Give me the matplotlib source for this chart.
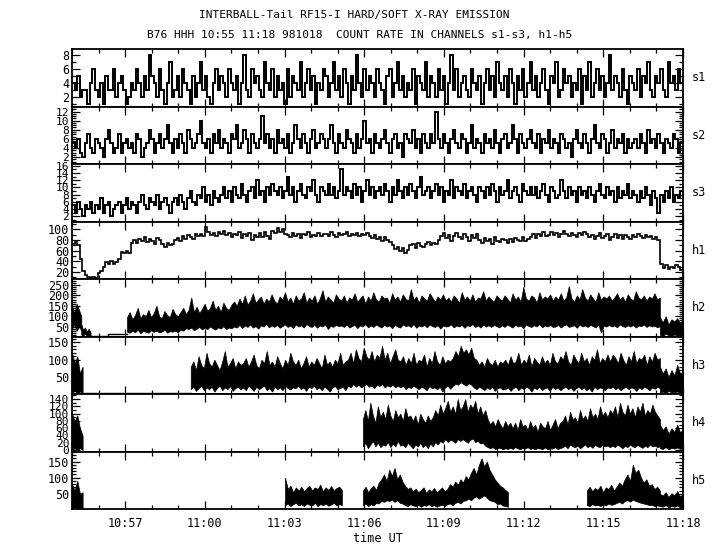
import numpy as np
import matplotlib
matplotlib.use('Agg')
import matplotlib.pyplot as plt
from matplotlib.ticker import MultipleLocator, FixedLocator

plt.rcParams['font.family'] = ['DejaVu Sans Mono']

# ---------------- data (time in minutes after 10:55 UT) ----------------
TITLE1 = "INTERBALL-Tail RF15-I HARD/SOFT X-RAY EMISSION"
TITLE2 = "B76 HHH 10:55 11:18 981018  COUNT RATE IN CHANNELS s1-s3, h1-h5"
XLABEL = "time UT"
T_START, T_END = 0.0, 23.0
X_TICKS = [2, 5, 8, 11, 14, 17, 20, 23]
X_LABELS = ["10:57", "11:00", "11:03", "11:06", "11:09", "11:12", "11:15", "11:18"]
CHANNELS = ["s1", "s2", "s3", "h1", "h2", "h3", "h4", "h5"]

S1 = [4, 3, 5, 2, 3, 3, 1, 4, 6, 3, 2, 4, 1, 5, 3, 3, 6, 2, 4, 5,
      3, 1, 2, 4, 3, 6, 4, 2, 5, 3, 8, 5, 4, 2, 6, 3, 1, 4, 7, 2,
      3, 5, 2, 6, 4, 3, 1, 5, 2, 4, 7, 3, 5, 2, 1, 4, 6, 3, 5, 4,
      2, 6, 4, 3, 5, 1, 4, 8, 3, 2, 6, 4, 5, 3, 2, 7, 4, 3, 6, 2,
      5, 3, 4, 1, 6, 2, 5, 4, 3, 7, 2, 4, 6, 3, 5, 1, 4, 3, 6, 5,
      2, 4, 7, 3, 5, 2, 6, 4, 1, 5, 3, 8, 4, 2, 6, 3, 5, 4, 2, 6,
      4, 3, 1, 5, 6, 2, 4, 7, 3, 5, 2, 4, 3, 6, 1, 5, 4, 3, 7, 2,
      5, 4, 2, 6, 3, 5, 1, 4, 8, 3, 6, 2, 4, 5, 3, 2, 6, 4, 3, 5,
      1, 4, 6, 3, 5, 2, 7, 4, 3, 5, 2, 6, 4, 1, 5, 3, 6, 2, 4, 7,
      3, 5, 2, 4, 6, 3, 1, 5, 4, 7, 2, 3, 6, 4, 5, 2, 4, 3, 6, 1,
      5, 3, 7, 2, 4, 6, 3, 5, 2, 4, 8, 3, 5, 4, 2, 6, 3, 1, 5, 4,
      3, 6, 2, 5, 4, 7, 3, 2, 5, 4, 6, 3, 2, 7, 4, 5, 3, 6, 4, 5]

S2 = [5, 4, 6, 3, 2, 5, 7, 4, 3, 6, 5, 4, 2, 6, 8, 5, 3, 4, 7, 3,
      5, 6, 4, 5, 3, 7, 6, 2, 4, 5, 8, 6, 3, 5, 7, 4, 6, 9, 5, 3,
      6, 4, 7, 5, 3, 8, 6, 4, 5, 7, 10, 5, 4, 6, 3, 7, 5, 8, 4, 6,
      5, 3, 7, 6, 9, 4, 5, 8, 6, 3, 7, 5, 4, 6, 11, 5, 7, 4, 6, 3,
      8, 5, 6, 4, 7, 3, 5, 9, 6, 4, 7, 5, 3, 6, 8, 4, 5, 7, 6, 4,
      6, 9, 5, 3, 7, 5, 4, 8, 6, 5, 3, 7, 4, 6, 10, 5, 6, 3, 7, 5,
      4, 6, 8, 5, 3, 6, 7, 4, 5, 2, 7, 6, 5, 8, 4, 6, 3, 7, 5, 4,
      7, 5, 12, 6, 4, 7, 5, 3, 6, 8, 5, 4, 7, 6, 3, 5, 9, 4, 6, 5,
      3, 7, 5, 6, 4, 8, 5, 3, 6, 7, 4, 5, 9, 6, 3, 7, 5, 4, 6, 8,
      5, 4, 7, 3, 6, 5, 8, 4, 6, 5, 3, 7, 6, 4, 5, 2, 6, 8, 5, 4,
      7, 5, 3, 6, 9, 5, 4, 7, 6, 3, 5, 8, 4, 6, 5, 7, 3, 6, 4, 5,
      6, 4, 7, 5, 3, 8, 5, 6, 4, 7, 5, 3, 6, 5, 4, 7, 6, 3, 5, 6]

S3 = [5, 3, 6, 4, 2, 5, 4, 6, 3, 5, 4, 7, 3, 5, 6, 2, 4, 5, 6, 3,
      5, 7, 4, 6, 5, 3, 6, 8, 5, 4, 7, 6, 5, 8, 4, 6, 7, 5, 3, 6,
      7, 5, 8, 6, 4, 7, 9, 6, 5, 8, 7, 10, 6, 8, 5, 9, 7, 6, 8, 10,
      7, 9, 6, 10, 8, 7, 11, 8, 6, 9, 10, 7, 12, 8, 9, 6, 10, 8, 11, 9,
      8, 10, 7, 9, 13, 8, 10, 6, 9, 11, 8, 7, 10, 9, 12, 8, 6, 10, 9, 8,
      11, 8, 10, 7, 9, 15, 8, 10, 9, 7, 11, 8, 10, 6, 9, 12, 8, 10, 7, 9,
      10, 8, 11, 9, 6, 10, 8, 12, 9, 7, 10, 8, 11, 9, 7, 10, 13, 8, 9, 10,
      7, 9, 11, 8, 10, 6, 9, 8, 12, 7, 10, 9, 8, 11, 7, 9, 10, 8, 6, 10,
      9, 7, 10, 8, 11, 9, 6, 10, 8, 9, 12, 7, 9, 10, 8, 6, 11, 9, 8, 10,
      8, 10, 7, 9, 11, 8, 6, 10, 9, 7, 8, 12, 9, 7, 10, 8, 9, 6, 10, 8,
      9, 7, 10, 8, 6, 9, 11, 8, 7, 10, 8, 9, 6, 10, 7, 9, 8, 11, 7, 9,
      8, 6, 9, 7, 10, 8, 5, 9, 7, 3, 8, 6, 9, 7, 10, 6, 8, 7, 9, 8]

H1 = [72, 76, 70, 45, 22, 14, 11, 9, 10, 8, 18, 22, 30, 38, 36, 40, 35, 38, 45, 58,
      55, 60, 56, 75, 80, 74, 83, 78, 85, 76, 82, 79, 73, 84, 80, 72, 68, 74, 70, 73,
      80, 84, 79, 87, 83, 90, 85, 82, 91, 87, 92, 88, 104, 96, 90, 94, 88, 95, 91, 97,
      89, 93, 86, 92, 90, 95, 84, 92, 87, 94, 81, 90, 86, 93, 85, 96, 88, 83, 98, 94,
      103, 96, 100, 92, 90, 85, 93, 88, 92, 84, 91, 89, 95, 86, 90, 88, 93, 87, 91, 92,
      88, 95, 90, 86, 93, 89, 91, 96, 88, 92, 90, 94, 87, 91, 89, 93, 87, 84, 90, 82,
      86, 79, 85, 81, 76, 70, 64, 68, 60, 66, 55, 62, 70, 73, 66, 74, 69, 67, 73, 76,
      70, 74, 72, 80, 87, 93, 84, 90, 78, 88, 94, 85, 82, 91, 86, 79, 89, 84, 92, 80,
      75, 84, 78, 82, 73, 85, 79, 76, 83, 80, 74, 82, 77, 84, 81, 78, 85, 79, 83, 86,
      91, 84, 92, 88, 95, 87, 90, 96, 89, 93, 85, 91, 98, 92, 88, 94, 90, 86, 93, 89,
      95, 91, 85, 90, 82, 88, 93, 84, 87, 91, 80, 86, 92, 84, 89, 82, 90, 86, 83, 89,
      85, 92, 87, 84, 90, 86, 88, 83, 86, 80, 36, 28, 33, 25, 30, 27, 34, 29, 24, 31]

# dense channels h2-h5: per segment (start, end) with upper / lower envelope
H2_SEGS = [(0.0, 0.35), (0.35, 0.7), (2.07, 22.13), (22.13, 23.0)]
H2_HI = [[150, 110, 160, 130, 100],
         [60, 35, 45, 25, 40, 20],
         [95, 120, 85, 105, 140, 90, 110, 100, 130, 95, 115, 150, 100, 90, 125, 105, 95, 135, 110, 100,
          120, 140, 110, 130, 190, 120, 145, 115, 135, 160, 125, 140, 175, 130, 150, 120, 165, 140, 130, 155,
          170, 150, 185, 160, 200, 155, 175, 210, 165, 180, 195, 160, 185, 170, 205, 175, 160, 195, 180, 215,
          170, 190, 160, 200, 175, 185, 215, 165, 190, 175, 200, 160, 185, 225, 170, 195, 180, 165, 205, 185,
          175, 200, 165, 190, 180, 210, 170, 185, 200, 160, 195, 175, 215, 180, 170, 200, 185, 190, 165, 210,
          180, 195, 170, 205, 185, 175, 230, 180, 195, 165, 200, 185, 175, 210, 190, 170, 195, 180, 205, 175,
          190, 170, 200, 185, 165, 215, 180, 195, 175, 205, 170, 190, 185, 220, 175, 195, 180, 170, 200, 185,
          175, 200, 185, 165, 210, 180, 195, 170, 240, 185, 175, 200, 190, 165, 215, 180, 195, 185, 205, 175,
          195, 180, 210, 175, 190, 245, 185, 170, 200, 180, 230, 190, 175, 205, 185, 170, 215, 180, 195, 185,
          200, 175, 190, 210, 180, 195, 170, 205, 185, 175, 220, 190, 180, 200, 175, 195, 185, 210, 180, 190],
         [95, 70, 100, 60, 85, 75, 90, 65, 80]]
H2_LO = [[40, 60, 30, 50, 30],
         [10, 5, 15, 5, 8, 5],
         [25, 20, 30, 22, 35, 18, 28, 25, 20, 32, 24, 30, 22, 26, 35, 20, 28, 25, 30, 22,
          35, 30, 42, 38, 45, 32, 40, 48, 36, 44, 38, 50, 42, 35, 46, 40, 52, 38, 45, 42,
          50, 45, 58, 42, 55, 48, 60, 45, 52, 40, 56, 50, 62, 46, 55, 48, 58, 44, 52, 60,
          48, 55, 42, 60, 50, 56, 45, 62, 52, 48, 58, 44, 55, 50, 60, 38, 54, 48, 58, 52,
          55, 48, 60, 45, 52, 58, 42, 56, 50, 62, 46, 55, 48, 60, 52, 45, 58, 50, 55, 42,
          58, 50, 45, 60, 52, 56, 48, 62, 44, 55, 50, 58, 46, 60, 52, 48, 56, 40, 55, 50,
          52, 60, 46, 55, 50, 58, 44, 56, 52, 62, 48, 55, 45, 60, 50, 56, 48, 58, 52, 46,
          56, 48, 60, 52, 45, 58, 50, 55, 42, 60, 52, 48, 56, 50, 62, 46, 55, 50, 58, 48,
          50, 58, 45, 55, 60, 48, 52, 56, 44, 60, 50, 55, 48, 58, 52, 46, 60, 22, 54, 50,
          58, 50, 55, 46, 60, 52, 48, 56, 50, 58, 45, 55, 52, 60, 48, 56, 50, 54, 46, 52],
         [10, 5, 15, 8, 5, 12, 6, 10, 8]]
H2_FLAT_T = [0.7, 1.35, 2.07]
H2_FLAT_V = [3, 16, 16]

H3_SEGS = [(0.0, 0.4), (4.47, 22.13), (22.13, 23.0)]
H3_HI = [[120, 90, 110, 60, 80],
         [80, 95, 70, 110, 85, 75, 120, 90, 80, 100, 85, 70, 95, 125, 80, 90, 105, 75, 95, 85,
          90, 105, 80, 95, 115, 85, 75, 100, 90, 125, 85, 95, 80, 110, 90, 75, 100, 85, 120, 95,
          85, 100, 75, 90, 110, 80, 95, 85, 105, 90, 75, 115, 85, 95, 80, 100, 90, 120, 85, 95,
          100, 120, 90, 130, 105, 95, 135, 110, 100, 125, 95, 115, 105, 140, 100, 120, 90, 110, 130, 100,
          95, 110, 85, 105, 90, 120, 85, 100, 95, 115, 80, 105, 90, 125, 95, 85, 110, 90, 100, 95,
          105, 125, 110, 140, 120, 130, 115, 135, 105, 100, 85, 95, 80, 105, 90, 85, 100, 80, 95, 90,
          100, 85, 110, 90, 95, 120, 85, 100, 90, 115, 80, 105, 95, 85, 110, 90, 100, 85, 120, 95,
          90, 110, 100, 125, 95, 85, 115, 100, 90, 120, 95, 105, 85, 110, 100, 130, 90, 105, 95, 115,
          95, 115, 105, 90, 120, 100, 85, 110, 95, 125, 90, 105, 100, 115, 85, 110, 95, 120, 100, 105],
         [80, 60, 75, 50, 70, 55, 85, 60, 65]]
H3_LO = [[5, 10, 3, 8, 5],
         [15, 22, 10, 18, 25, 12, 20, 15, 22, 8, 18, 25, 12, 20, 15, 24, 10, 18, 22, 14,
          20, 12, 25, 18, 10, 22, 15, 20, 25, 12, 18, 8, 22, 15, 20, 12, 25, 18, 14, 20,
          18, 25, 15, 20, 10, 22, 18, 25, 15, 20, 12, 22, 16, 8, 20, 24, 15, 18, 22, 12,
          25, 20, 30, 22, 28, 20, 25, 30, 22, 25, 18, 28, 24, 30, 20, 26, 22, 28, 20, 25,
          20, 25, 15, 22, 18, 25, 20, 15, 22, 18, 12, 24, 18, 20, 15, 22, 8, 20, 25, 16,
          25, 30, 28, 35, 30, 25, 32, 28, 20, 15, 22, 18, 12, 20, 15, 22, 10, 18, 20, 14,
          15, 20, 10, 18, 22, 12, 20, 15, 22, 18, 8, 20, 15, 22, 12, 18, 20, 10, 22, 15,
          20, 12, 18, 22, 15, 20, 10, 18, 22, 15, 20, 12, 18, 8, 22, 15, 20, 18, 12, 20,
          18, 22, 15, 20, 12, 18, 22, 15, 20, 18, 10, 20, 15, 22, 18, 12, 20, 16, 22, 18],
         [5, 8, 3, 10, 5, 6, 8, 4, 7]]
H3_FLAT_T = [0.45, 4.47]
H3_FLAT_V = [3, 3]

H4_SEGS = [(0.0, 0.4), (10.95, 22.13), (22.13, 23.0)]
H4_HI = [[100, 80, 95, 60, 40],
         [85, 110, 80, 130, 95, 75, 120, 90, 105, 85, 125, 95, 80, 110, 90, 100, 80, 115, 90, 95,
          80, 95, 70, 100, 85, 75, 95, 80, 90, 110, 95, 125, 100, 115, 135, 105, 120, 100, 140, 110,
          120, 140, 105, 125, 115, 135, 100, 120, 95, 110, 85, 70, 80, 65, 85, 70, 60, 80, 65, 75,
          60, 75, 55, 85, 65, 70, 55, 80, 60, 70, 50, 75, 65, 60, 80, 55, 70, 85, 60, 75,
          80, 95, 70, 105, 85, 90, 75, 110, 85, 95, 80, 115, 90, 100, 85, 120, 95, 105, 90, 110,
          100, 120, 90, 130, 105, 95, 125, 100, 115, 90, 120, 105, 130, 95, 110, 100, 125, 105, 95, 85],
         [70, 55, 65, 45, 60, 50, 70, 48, 58]]
H4_LO = [[0, 5, 0, 5, 0],
         [10, 20, 5, 15, 25, 10, 20, 8, 15, 12, 22, 8, 18, 10, 25, 12, 15, 8, 20, 12,
          5, 15, 10, 20, 8, 15, 5, 18, 10, 22, 15, 25, 20, 30, 22, 28, 25, 20, 30, 25,
          30, 25, 20, 28, 32, 22, 25, 18, 20, 12, 8, 5, 8, 3, 5, 6, 2, 5, 3, 6,
          3, 8, 5, 2, 6, 4, 8, 3, 5, 2, 6, 4, 3, 7, 2, 5, 4, 8, 3, 5,
          8, 12, 5, 15, 10, 8, 12, 5, 10, 15, 8, 12, 6, 14, 10, 8, 15, 10, 12, 8,
          12, 8, 15, 10, 5, 12, 8, 15, 10, 8, 14, 10, 6, 12, 8, 15, 10, 12, 8, 10],
         [5, 3, 8, 2, 6, 4, 7, 3, 5]]

H5_SEGS = [(0.0, 0.4), (8.02, 10.16), (10.95, 16.41), (19.38, 22.13), (22.13, 23.0)]
H5_HI = [[80, 60, 90, 50, 55],
         [100, 65, 75, 55, 70, 60, 72, 58, 68, 75, 60, 70, 65, 78, 58, 70, 62, 74, 60, 68, 72, 62],
         [60, 72, 55, 68, 75, 62, 85, 95, 110, 90, 125, 105, 130, 95, 110, 88, 75, 65, 70, 58,
          66, 55, 62, 70, 52, 64, 58, 68, 55, 62, 70, 58, 65, 80, 72, 88, 78, 95, 85, 105,
          95, 115, 130, 110, 140, 160, 135, 150, 125, 110, 95, 85, 75, 70, 62, 55],
         [60, 72, 58, 68, 62, 75, 55, 70, 65, 78, 60, 72, 85, 75, 95, 110, 90, 140, 115, 125,
          100, 85, 95, 75, 80, 65, 72, 60],
         [50, 45, 55, 40, 52, 45, 58, 42, 50]]
H5_LO = [[5, 10, 3, 8, 5],
         [15, 20, 12, 18, 22, 14, 18, 12, 20, 16, 14, 22, 12, 18, 15, 20, 13, 17, 22, 14, 18, 15],
         [15, 20, 12, 18, 14, 22, 20, 28, 25, 30, 28, 32, 25, 30, 22, 20, 15, 12, 18, 14,
          12, 16, 10, 15, 13, 18, 12, 15, 10, 14, 16, 12, 18, 20, 15, 22, 25, 20, 28, 30,
          35, 30, 38, 42, 35, 40, 45, 38, 30, 28, 25, 18, 20, 14, 12, 10],
         [15, 12, 18, 14, 16, 12, 18, 14, 20, 16, 18, 22, 25, 20, 28, 30, 26, 32, 28, 25,
          22, 20, 18, 15, 16, 12, 14, 12],
         [12, 10, 15, 8, 12, 10, 14, 9, 11]]

YLIMS = {"s1": (0.7, 8.9), "s2": (0.5, 13.1), "s3": (0.5, 16.5), "h1": (7, 115),
         "h2": (2, 279), "h3": (1, 167), "h4": (-4, 154), "h5": (3, 181)}
YMAJOR = {"s1": 2, "s2": 2, "s3": 2, "h1": 20, "h2": 50, "h3": 50, "h4": 20, "h5": 50}
YMINOR = {"s1": 1, "s2": 0.5, "s3": 1, "h1": 10, "h2": 10, "h3": 10, "h4": 10, "h5": 10}

# ---------------- figure ----------------
W, H = 720, 550
fig = plt.figure(figsize=(W / 100, H / 100), dpi=100)

left_px, right_px = 72, 683
top_px, bot_px = 49, 509
ph = (bot_px - top_px) / 8.0

axes = {}
for k, name in enumerate(CHANNELS):
    y_top = top_px + k * ph
    ax = fig.add_axes([left_px / W, 1 - (y_top + ph) / H, (right_px - left_px) / W, ph / H])
    axes[name] = ax


def step_series(ax, vals, lw):
    t = np.linspace(T_START, T_END, len(vals))
    ax.plot(t, vals, drawstyle='steps-post', color='k', lw=lw, solid_joinstyle='miter')


def band_series(ax, segs, his, los):
    for (a, b), hi, lo in zip(segs, his, los):
        n = min(len(hi), len(lo))
        t = np.linspace(a, b, n)
        ax.fill_between(t, lo[:n], hi[:n], color='k', lw=0.5, edgecolor='k')


step_series(axes["s1"], S1, 1.4)
step_series(axes["s2"], S2, 1.4)
step_series(axes["s3"], S3, 1.4)
step_series(axes["h1"], H1, 1.2)
band_series(axes["h2"], H2_SEGS, H2_HI, H2_LO)
axes["h2"].plot(H2_FLAT_T, H2_FLAT_V, drawstyle='steps-post', color='k', lw=1.0)
band_series(axes["h3"], H3_SEGS, H3_HI, H3_LO)
axes["h3"].plot(H3_FLAT_T, H3_FLAT_V, color='k', lw=1.0)
band_series(axes["h4"], H4_SEGS, H4_HI, H4_LO)
band_series(axes["h5"], H5_SEGS, H5_HI, H5_LO)

for k, name in enumerate(CHANNELS):
    ax = axes[name]
    ax.set_xlim(T_START, T_END)
    ax.set_ylim(*YLIMS[name])
    ax.xaxis.set_major_locator(FixedLocator(X_TICKS))
    ax.xaxis.set_minor_locator(MultipleLocator(1))
    ax.yaxis.set_major_locator(MultipleLocator(YMAJOR[name]))
    ax.yaxis.set_minor_locator(MultipleLocator(YMINOR[name]))
    ax.tick_params(which='both', direction='in', top=True, right=True,
                   width=0.9, colors='k')
    ax.tick_params(which='major', length=5.5)
    ax.tick_params(which='minor', length=2.8)
    lsize = 8 if name in ("s2", "s3", "h4") else 8.5
    ax.tick_params(axis='y', labelsize=lsize, pad=2)
    for sp in ax.spines.values():
        sp.set_linewidth(1.3)
    if k < 7:
        ax.set_xticklabels([])
    else:
        ax.set_xticklabels(X_LABELS, fontsize=8.5)
        ax.tick_params(axis='x', pad=6)
        ax.set_xlabel(XLABEL, fontsize=8.5, labelpad=1)
    ax.text(1.015, 0.5, name, transform=ax.transAxes, ha='left', va='center', fontsize=8.5)

fig.text(354 / W, 1 - 15 / H, TITLE1, ha='center', va='center', fontsize=8)
fig.text(360 / W, 1 - 35 / H, TITLE2, ha='center', va='center', fontsize=8)

fig.savefig("out.png", dpi=100)
